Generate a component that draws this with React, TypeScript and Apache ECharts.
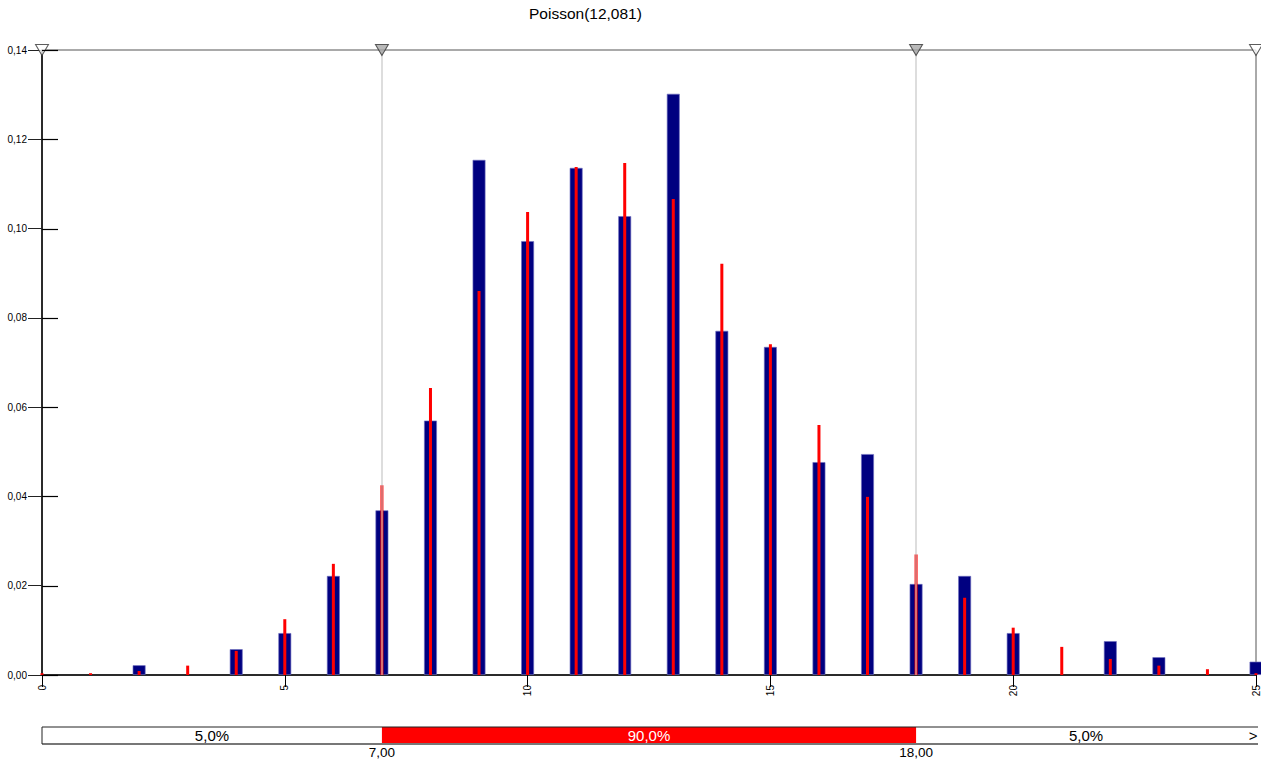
import React, { useEffect, useRef } from 'react';
import * as echarts from 'echarts';

// x values 0..25
const xValues = [0, 1, 2, 3, 4, 5, 6, 7, 8, 9, 10, 11, 12, 13, 14, 15, 16, 17, 18, 19, 20, 21, 22, 23, 24, 25];
// simulated relative frequencies (blue bars); null = no bar
const simulated = [null, null, 0.0022, null, 0.0058, 0.0094, 0.0222, 0.0369, 0.0570, 0.1154, 0.0972, 0.1136, 0.1028, 0.1302, 0.0771, 0.0735, 0.0477, 0.0495, 0.0204, 0.0222, 0.0094, null, 0.0076, 0.0040, null, 0.0030];
// fitted Poisson(12,081) probabilities (red lines)
const poisson = [0.0004, 0.0004, 0.0009, 0.0021, 0.0054, 0.0125, 0.0249, 0.0425, 0.0643, 0.0860, 0.1037, 0.1138, 0.1147, 0.1066, 0.0921, 0.0741, 0.0560, 0.0399, 0.0270, 0.0173, 0.0106, 0.0063, 0.0036, 0.0021, 0.0013, 0.0004];

const titleText = 'Poisson(12,081)';
const xRange = [0, 25];
const yRange = [0, 0.14];
const yTicks = [0, 0.02, 0.04, 0.06, 0.08, 0.1, 0.12, 0.14];
const percentileBounds = [7, 18];
const percentLabels = ['5,0%', '90,0%', '5,0%'];
const boundLabels = ['7,00', '18,00'];

const FONT = '"Liberation Sans", Arial, sans-serif';

export default function App() {
  const ref = useRef<HTMLDivElement>(null);

  useEffect(() => {
    const chart = echarts.init(ref.current!, null, { renderer: 'svg' });
    const fmtY = (v: number) => v.toFixed(2).replace('.', ',');

    const blueData = xValues
      .map((x, i) => (simulated[i] == null ? null : [x, simulated[i]]))
      .filter((d) => d !== null);
    const redData = xValues.map((x, i) => [x, poisson[i]]);
    const markers = [xRange[0], percentileBounds[0], percentileBounds[1], xRange[1]].map((x, i) => ({
      value: [x, yRange[1]],
      itemStyle: { color: i === 0 || i === 3 ? '#ffffff' : '#a8a8a8' },
    }));

    chart.setOption({
      animation: false,
      backgroundColor: '#ffffff',
      textStyle: { fontFamily: FONT },
      title: {
        text: titleText,
        left: 524,
        top: 0,
        textStyle: { fontSize: 15.5, fontWeight: 'normal', color: '#000', fontFamily: FONT },
      },
      grid: {
        left: 42,
        right: 4,
        top: 50,
        bottom: 85,
        show: true,
        borderColor: '#555',
        borderWidth: 1,
        backgroundColor: 'transparent',
      },
      xAxis: [
        {
          type: 'value',
          min: xRange[0],
          max: xRange[1],
          interval: 5,
          position: 'bottom',
          splitLine: { show: false },
          axisLine: { show: true, onZero: false, lineStyle: { color: '#000', width: 1.5 } },
          axisTick: { show: true, length: 12, lineStyle: { color: '#000' } },
          axisLabel: {
            rotate: 90,
            margin: 10,
            fontSize: 10,
            color: '#000',
            fontFamily: FONT,
            formatter: (v: number) => String(v),
          },
        },
        {
          type: 'value',
          min: xRange[0],
          max: xRange[1],
          position: 'bottom',
          show: false,
        },
      ],
      yAxis: [
        {
          type: 'value',
          min: yRange[0],
          max: yRange[1],
          interval: 0.02,
          position: 'left',
          splitLine: { show: false },
          axisLine: { show: true, onZero: false, lineStyle: { color: '#000', width: 1.5 } },
          axisTick: { show: true, length: 14, lineStyle: { color: '#222' } },
          axisLabel: { margin: 15, fontSize: 10, color: '#000', fontFamily: FONT, formatter: fmtY },
        },
      ],
      series: [
        {
          type: 'bar',
          name: 'Simulation',
          xAxisIndex: 0,
          yAxisIndex: 0,
          data: blueData,
          barWidth: 13,
          clip: true,
          itemStyle: { color: '#000080', borderColor: 'rgba(110,110,190,0.8)', borderWidth: 0.8 },
          z: 2,
        },
        {
          type: 'bar',
          name: 'Poisson',
          xAxisIndex: 1,
          yAxisIndex: 0,
          data: redData,
          barWidth: 3,
          clip: true,
          itemStyle: { color: '#ff0000' },
          z: 3,
        },
        {
          type: 'scatter',
          xAxisIndex: 0,
          yAxisIndex: 0,
          data: markers,
          symbol: 'triangle',
          symbolRotate: 180,
          symbolSize: [13, 11],
          clip: false,
          itemStyle: { borderColor: '#333', borderWidth: 1 },
          z: 6,
          markLine: {
            silent: true,
            symbol: ['none', 'none'],
            label: { show: false },
            lineStyle: { color: 'rgba(195,195,195,0.75)', width: 1.5, type: 'solid' },
            data: percentileBounds.map((b) => ({ xAxis: b })),
            z: 4,
          },
        },
      ],
    });

    const px = (v: number) => chart.convertToPixel({ xAxisIndex: 0 }, v) as number;
    const py = (v: number) => chart.convertToPixel({ yAxisIndex: 0 }, v) as number;
    const x0 = px(xRange[0]);
    const x1 = px(percentileBounds[0]);
    const x2 = px(percentileBounds[1]);
    const x3 = px(xRange[1]);
    const barTop = 727;
    const barH = 17;
    const textY = barTop + barH / 2;
    const txt = (x: number, y: number, s: string, color = '#000', size = 15) => ({
      type: 'text',
      x,
      y,
      style: { text: s, fill: color, fontSize: size, fontFamily: FONT, align: 'center', verticalAlign: 'middle' },
      z: 10,
    });

    const innerTicks = yTicks.map((t) => {
      const y = Math.round(py(t)) + 0.5;
      return {
        type: 'line',
        shape: { x1: x0, y1: y, x2: x0 + 16, y2: y },
        style: { stroke: '#000', lineWidth: 1.2 },
        z: 10,
      };
    });

    chart.setOption({
      graphic: [
        ...innerTicks,
        { type: 'rect', shape: { x: x0, y: barTop, width: x3 - x0, height: barH }, style: { fill: '#fff' }, z: 9 },
        { type: 'rect', shape: { x: x1, y: barTop, width: x2 - x1, height: barH }, style: { fill: '#ff0000' }, z: 9 },
        { type: 'line', shape: { x1: x0, y1: barTop, x2: x3 + 2, y2: barTop }, style: { stroke: '#222', lineWidth: 1 }, z: 10 },
        { type: 'line', shape: { x1: x0, y1: barTop + barH, x2: x3 + 2, y2: barTop + barH }, style: { stroke: '#777', lineWidth: 2 }, z: 10 },
        { type: 'line', shape: { x1: x0, y1: barTop, x2: x0, y2: barTop + barH }, style: { stroke: '#222', lineWidth: 1 }, z: 10 },
        txt((x0 + x1) / 2, textY, percentLabels[0]),
        txt((x1 + x2) / 2, textY, percentLabels[1], '#ffffff'),
        txt((x2 + x3) / 2, textY, percentLabels[2]),
        txt(x3 - 3, textY, '>'),
        txt(x1, barTop + barH + 8, boundLabels[0], '#000', 13.5),
        txt(x2, barTop + barH + 8, boundLabels[1], '#000', 13.5),
      ],
    });

    return () => chart.dispose();
  }, []);

  return <div ref={ref} style={{ position: 'fixed', left: 0, top: 0, width: 1261, height: 760 }} />;
}
